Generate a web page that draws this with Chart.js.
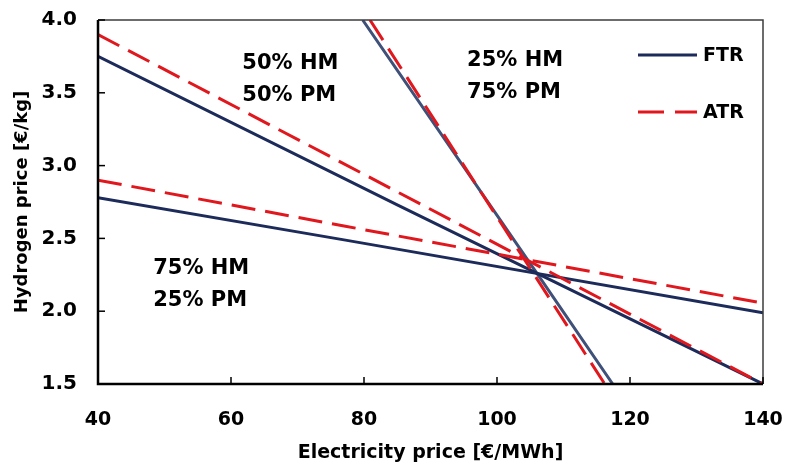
<!DOCTYPE html>
<html lang="en">
<head>
    <meta charset="UTF-8">
    <title>Hydrogen price vs electricity price</title>
    <script src="https://cdn.jsdelivr.net/npm/chart.js"></script>
    <style>
        body { margin: 0; background: #fff; }
        #grafico { display: block; }
    </style>
</head>
<body>
    <canvas id="grafico" width="785" height="466"></canvas>

<script>
    // values: electricity price [€/MWh] -> hydrogen price [€/kg]
    // 75% HM / 25% PM boundary
    var ftrShallowX = [40, 77, 140];
    var ftrShallowY = [2.78, 2.49, 1.99];
    var atrShallowX = [40, 77, 140];
    var atrShallowY = [2.90, 2.585, 2.055];
    // 50% HM / 50% PM boundary
    var ftrMidX = [40, 85, 140];
    var ftrMidY = [3.75, 2.73, 1.50];
    var atrMidX = [40, 140];
    var atrMidY = [3.90, 1.50];
    // 25% HM / 75% PM boundary
    var ftrSteepX = [79.8, 105.7, 117.4];
    var ftrSteepY = [4.00, 2.28, 1.50];
    var atrSteepX = [80.9, 116.2];
    var atrSteepY = [4.00, 1.50];

    var xTicks = [40, 60, 80, 100, 120, 140];
    var yTicks = [1.5, 2.0, 2.5, 3.0, 3.5, 4.0];

    var regionLabels = [['50% HM', '50% PM'], ['25% HM', '75% PM'], ['75% HM', '25% PM']];

    var navy = '#1c2b5a';
    var slate = '#3f5079';
    var red = '#e1171e';
    var fonte = 'DejaVu Sans';

    function pontos(xs, ys) {
        var lista = [];
        for (var i = 0; i < xs.length; i++) {
            lista.push({ x: xs[i], y: ys[i] });
        }
        return lista;
    }

    function linha(label, xs, ys, cor, tracejado, ordem) {
        return {
            label: label,
            data: pontos(xs, ys),
            showLine: true,
            borderColor: cor,
            backgroundColor: cor,
            borderWidth: 3,
            borderDash: tracejado ? [24, 10] : [],
            pointRadius: 0,
            tension: 0,
            order: ordem
        };
    }

    // frame, inward ticks, legend and region labels
    var extras = {
        id: 'extras',
        afterDatasetsDraw: function (chart) {
            var ctx = chart.ctx;
            var a = chart.chartArea;
            var x = chart.scales.x;
            var y = chart.scales.y;
            ctx.save();

            ctx.strokeStyle = '#3c3c3c';
            ctx.lineWidth = 1.5;
            ctx.beginPath();
            ctx.moveTo(a.left, a.top);
            ctx.lineTo(a.right, a.top);
            ctx.lineTo(a.right, a.bottom);
            ctx.stroke();

            ctx.strokeStyle = '#000';
            ctx.lineWidth = 2.5;
            ctx.beginPath();
            ctx.moveTo(a.left, a.top);
            ctx.lineTo(a.left, a.bottom);
            ctx.lineTo(a.right, a.bottom);
            ctx.stroke();

            ctx.lineWidth = 1.5;
            xTicks.forEach(function (v) {
                var px = x.getPixelForValue(v);
                ctx.beginPath();
                ctx.moveTo(px, a.bottom);
                ctx.lineTo(px, a.bottom - 7);
                ctx.stroke();
            });
            yTicks.forEach(function (v) {
                var py = y.getPixelForValue(v);
                ctx.beginPath();
                ctx.moveTo(a.left, py);
                ctx.lineTo(a.left + 7, py);
                ctx.stroke();
            });

            // legend
            var itens = [
                { texto: 'FTR', cor: navy, dash: [] },
                { texto: 'ATR', cor: red, dash: [26, 11] }
            ];
            ctx.font = 'bold 19px ' + fonte;
            ctx.textBaseline = 'middle';
            ctx.textAlign = 'left';
            itens.forEach(function (item, i) {
                var ly = a.top + 35 + i * 57;
                ctx.strokeStyle = item.cor;
                ctx.lineWidth = 3;
                ctx.setLineDash(item.dash);
                ctx.beginPath();
                ctx.moveTo(a.right - 125, ly);
                ctx.lineTo(a.right - 66, ly);
                ctx.stroke();
                ctx.setLineDash([]);
                ctx.fillStyle = '#000';
                ctx.fillText(item.texto, a.right - 60, ly + 1);
            });

            // region labels
            var lugares = [[61.7, 3.70], [95.5, 3.72], [48.3, 2.29]];
            ctx.font = 'bold 21px ' + fonte;
            regionLabels.forEach(function (par, i) {
                var px = x.getPixelForValue(lugares[i][0]);
                var py = y.getPixelForValue(lugares[i][1]);
                ctx.fillText(par[0], px, py);
                ctx.fillText(par[1], px, py + 32);
            });

            ctx.restore();
        }
    };

    var config = {
        type: 'scatter',
        data: {
            datasets: [
                linha('ATR', atrShallowX, atrShallowY, red, true, 1),
                linha('ATR', atrMidX, atrMidY, red, true, 1),
                linha('ATR', atrSteepX, atrSteepY, red, true, 1),
                linha('FTR', ftrShallowX, ftrShallowY, navy, false, 2),
                linha('FTR', ftrMidX, ftrMidY, navy, false, 2),
                linha('FTR', ftrSteepX, ftrSteepY, slate, false, 2)
            ]
        },
        options: {
            responsive: false,
            animation: false,
            layout: { padding: { top: 20, right: 22, left: 0, bottom: 0 } },
            plugins: {
                legend: { display: false },
                tooltip: { enabled: false }
            },
            scales: {
                x: {
                    type: 'linear',
                    min: 40,
                    max: 140,
                    afterFit: function (s) {
                        s.height = 82;
                        s.paddingLeft = 0;
                        s.paddingRight = 0;
                    },
                    afterBuildTicks: function (s) { s.ticks = xTicks.map(function (v) { return { value: v }; }); },
                    grid: { display: false, drawTicks: false },
                    border: { display: false },
                    ticks: {
                        padding: 25,
                        color: '#000',
                        font: { size: 19, weight: 'bold', family: fonte }
                    },
                    title: {
                        display: true,
                        text: 'Electricity price [€/MWh]',
                        color: '#000',
                        padding: { top: 0, bottom: 2 },
                        font: { size: 19, weight: 'bold', family: fonte }
                    }
                },
                y: {
                    type: 'linear',
                    min: 1.5,
                    max: 4.0,
                    afterFit: function (s) {
                        s.width = 98;
                        s.paddingTop = 0;
                        s.paddingBottom = 0;
                    },
                    afterBuildTicks: function (s) { s.ticks = yTicks.map(function (v) { return { value: v }; }); },
                    grid: { display: false, drawTicks: false },
                    border: { display: false },
                    ticks: {
                        padding: 21,
                        color: '#000',
                        font: { size: 20, weight: 'bold', family: fonte },
                        callback: function (v) { return v.toFixed(1); }
                    },
                    title: {
                        display: true,
                        text: 'Hydrogen price [€/kg]',
                        color: '#000',
                        padding: { top: 12, bottom: 0 },
                        font: { size: 18, weight: 'bold', family: fonte }
                    }
                }
            }
        },
        plugins: [extras]
    };

    var ctx = document.getElementById('grafico').getContext('2d');
    var grafico = new Chart(ctx, config);
</script>
</body>
</html>
